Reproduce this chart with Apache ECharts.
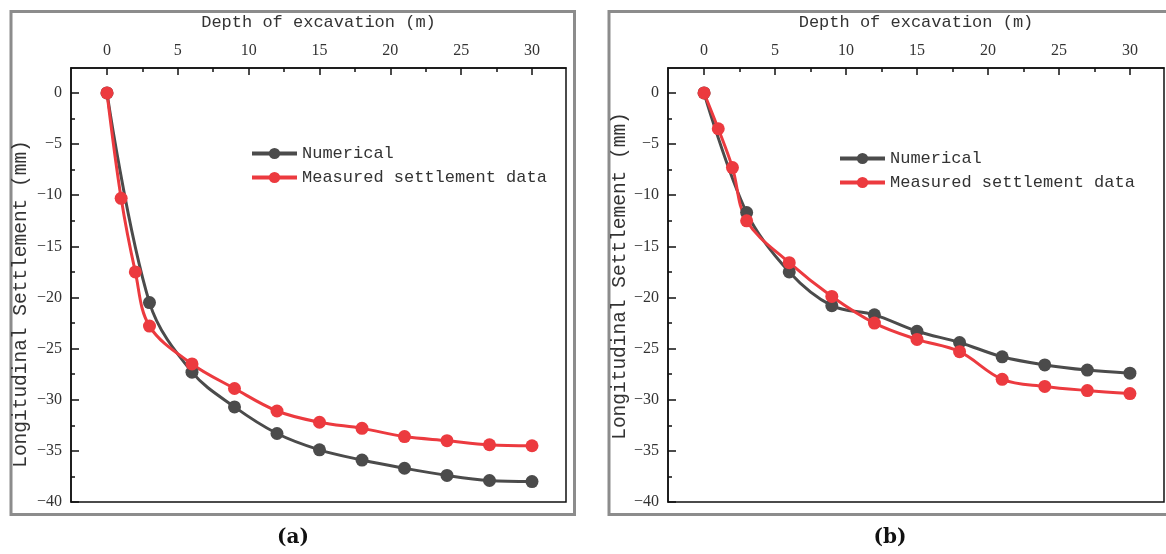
<!DOCTYPE html>
<html>
<head>
<meta charset="utf-8">
<script src="https://cdn.jsdelivr.net/npm/echarts@6/dist/echarts.min.js"></script>
<style>html,body{margin:0;padding:0;background:#fff}#c{width:1166px;height:554px}</style>
</head>
<body>
<div id="c"></div>
<script>
// ---- data ----
const depthNumerical = [0, 3, 6, 9, 12, 15, 18, 21, 24, 27, 30];
const depthMeasured = [0, 1, 2, 3, 6, 9, 12, 15, 18, 21, 24, 27, 30];
const numericalA = [0, -20.5, -27.3, -30.7, -33.3, -34.9, -35.9, -36.7, -37.4, -37.9, -38.0];
const measuredA = [0, -10.3, -17.5, -22.8, -26.5, -28.9, -31.1, -32.2, -32.8, -33.6, -34.0, -34.4, -34.5];
const numericalB = [0, -11.7, -17.5, -20.8, -21.7, -23.3, -24.4, -25.8, -26.6, -27.1, -27.4];
const measuredB = [0, -3.5, -7.3, -12.5, -16.6, -19.9, -22.5, -24.1, -25.3, -28.0, -28.7, -29.1, -29.4];
const xMajorTicks = [0, 5, 10, 15, 20, 25, 30];
const xMinorTicks = [2.5, 7.5, 12.5, 17.5, 22.5, 27.5];
const yMajorTicks = [-40, -35, -30, -25, -20, -15, -10, -5, 0];
const yMinorTicks = [-37.5, -32.5, -27.5, -22.5, -17.5, -12.5, -7.5, -2.5];
const seriesNames = ['Numerical', 'Measured settlement data'];
const xTitle = 'Depth of excavation (m)';
const yTitle = 'Longitudinal Settlement (mm)';
const captions = ['(a)', '(b)'];

// ---- styling ----
const X_MIN = -2.54, X_MAX = 32.4, Y_MIN = -40, Y_MAX = 2.44;
const DARK = '#4b4b4b', RED = '#ec3a3f', AX = '#111';
const MONO = '"Liberation Mono", "DejaVu Sans Mono", monospace';
const SERIF = '"Liberation Serif", "DejaVu Serif", serif';
const fmt = v => String(v).replace('-', '\u2212');

const grids = [
  {left: 71, top: 68, width: 495, height: 434},
  {left: 668, top: 68, width: 496, height: 434}
];

function xAxes(gi) {
  return [{
    type: 'value', gridIndex: gi, position: 'top', min: X_MIN, max: X_MAX,
    axisLine: {show: true, onZero: false, lineStyle: {color: AX, width: 1.5}},
    axisTick: {show: true, inside: true, length: 7, customValues: xMajorTicks, lineStyle: {color: AX, width: 1.5}},
    axisLabel: {customValues: xMajorTicks, color: '#333', fontFamily: SERIF, fontSize: 16, margin: 9, formatter: fmt},
    splitLine: {show: false},
    name: xTitle, nameLocation: 'middle', nameGap: 37,
    nameTextStyle: {fontFamily: MONO, fontSize: 17, color: '#333'}
  }, {
    type: 'value', gridIndex: gi, position: 'top', min: X_MIN, max: X_MAX,
    axisLine: {show: false, onZero: false},
    axisTick: {show: true, inside: true, length: 4, customValues: xMinorTicks, lineStyle: {color: AX, width: 1.5}},
    axisLabel: {show: false}, splitLine: {show: false}
  }];
}
function yAxes(gi) {
  return [{
    type: 'value', gridIndex: gi, position: 'left', min: Y_MIN, max: Y_MAX,
    axisLine: {show: true, onZero: false, lineStyle: {color: AX, width: 1.5}},
    axisTick: {show: true, inside: true, length: 8, customValues: yMajorTicks, lineStyle: {color: AX, width: 1.5}},
    axisLabel: {customValues: yMajorTicks, color: '#333', fontFamily: SERIF, fontSize: 16, margin: 9, formatter: fmt},
    splitLine: {show: false}
  }, {
    type: 'value', gridIndex: gi, position: 'left', min: Y_MIN, max: Y_MAX,
    axisLine: {show: false, onZero: false},
    axisTick: {show: true, inside: true, length: 4, customValues: yMinorTicks, lineStyle: {color: AX, width: 1.5}},
    axisLabel: {show: false}, splitLine: {show: false}
  }];
}
function line(name, xs, ys, color, xi, yi) {
  return {
    type: 'line', name: name, xAxisIndex: xi, yAxisIndex: yi,
    data: xs.map((x, i) => [x, ys[i]]),
    smooth: 0.35, symbol: 'circle', symbolSize: 13,
    lineStyle: {color: color, width: 3}, itemStyle: {color: color},
    emphasis: {disabled: true}
  };
}
function legend(left, top) {
  return {
    data: seriesNames, orient: 'vertical', left: left, top: top,
    itemWidth: 45, itemHeight: 14, itemGap: 7,
    lineStyle: {width: 4},
    textStyle: {fontFamily: MONO, fontSize: 17, color: '#333'}
  };
}

const chart = echarts.init(document.getElementById('c'), null, {renderer: 'canvas'});
chart.setOption({
  animation: false,
  backgroundColor: '#fff',
  grid: grids.map(g => Object.assign({show: true, borderColor: AX, borderWidth: 1.5, backgroundColor: 'transparent'}, g)),
  xAxis: [...xAxes(0), ...xAxes(1)],
  yAxis: [...yAxes(0), ...yAxes(1)],
  legend: [legend(245, 140), legend(833, 145)],
  series: [
    line(seriesNames[0], depthNumerical, numericalA, DARK, 0, 0),
    line(seriesNames[1], depthMeasured, measuredA, RED, 0, 0),
    line(seriesNames[0], depthNumerical, numericalB, DARK, 2, 2),
    line(seriesNames[1], depthMeasured, measuredB, RED, 2, 2)
  ],
  graphic: [
    {type: 'rect', shape: {x: 11, y: 11.5, width: 563.5, height: 503}, style: {fill: 'none', stroke: '#8c8c8c', lineWidth: 3}, silent: true},
    {type: 'rect', shape: {x: 609, y: 11.5, width: 600, height: 503}, style: {fill: 'none', stroke: '#8c8c8c', lineWidth: 3}, silent: true},
    {type: 'text', x: 21, y: 304, rotation: Math.PI / 2, style: {text: yTitle, font: '19.5px ' + MONO, fill: '#333', align: 'center', verticalAlign: 'middle'}, silent: true},
    {type: 'text', x: 620, y: 276, rotation: Math.PI / 2, style: {text: yTitle, font: '19.5px ' + MONO, fill: '#333', align: 'center', verticalAlign: 'middle'}, silent: true},
    {type: 'text', x: 293, y: 538, style: {text: captions[0], font: 'bold 20px "DejaVu Serif", serif', fill: '#111', align: 'center', verticalAlign: 'middle'}, silent: true},
    {type: 'text', x: 890, y: 538, style: {text: captions[1], font: 'bold 20px "DejaVu Serif", serif', fill: '#111', align: 'center', verticalAlign: 'middle'}, silent: true}
  ]
});
</script>
</body>
</html>
